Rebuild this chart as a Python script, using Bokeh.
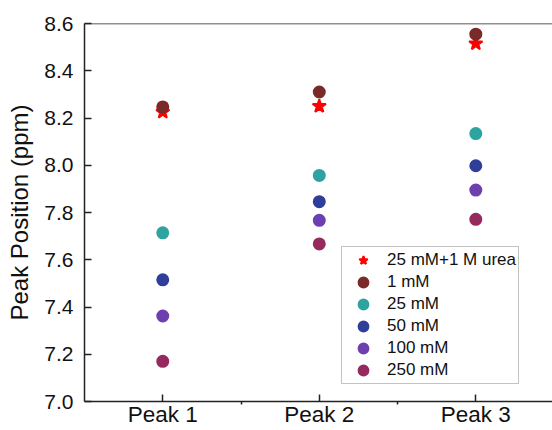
from bokeh.plotting import figure
from bokeh.models import (Range1d, FixedTicker, Span, Legend, LegendItem,
                          NumeralTickFormatter)
from bokeh.embed import file_html
from bokeh.resources import INLINE

categories = ["Peak 1", "Peak 2", "Peak 3"]
urea_25mM_1M = [8.225, 8.250, 8.515]
c_1mM = [8.247, 8.310, 8.555]
c_25mM = [7.714, 7.957, 8.134]
c_50mM = [7.515, 7.846, 7.998]
c_100mM = [7.362, 7.767, 7.895]
c_250mM = [7.170, 7.667, 7.771]
y_ticks = [7.0, 7.2, 7.4, 7.6, 7.8, 8.0, 8.2, 8.4, 8.6]

FONT = "Liberation Sans"
xpos = [i + 1 for i in range(len(categories))]
y_lo, y_hi = y_ticks[0], y_ticks[-1]

p = figure(width=552, height=430, output_backend="svg", toolbar_location=None,
           x_range=Range1d(0.5, 3.49), y_range=Range1d(y_lo, y_hi),
           min_border_left=84, min_border_right=0, min_border_top=23,
           min_border_bottom=29)
p.outline_line_color = None
p.grid.visible = False
p.background_fill_color = "white"
p.border_fill_color = "white"

xa = p.xaxis[0]
xa.ticker = FixedTicker(ticks=xpos, minor_ticks=[1.5, 2.5])
xa.major_label_overrides = {x: c for x, c in zip(xpos, categories)}
xa.major_tick_in = 7
xa.major_tick_out = 0
xa.minor_tick_in = 0
xa.minor_tick_out = 3
xa.major_label_standoff = -3
ya = p.yaxis[0]
ya.ticker = FixedTicker(ticks=y_ticks, minor_ticks=[])
ya.formatter = NumeralTickFormatter(format="0.0")
ya.major_tick_in = 7
ya.major_tick_out = 0
ya.major_label_standoff = 11
ya.axis_label = "Peak Position (ppm)"
ya.axis_label_standoff = 8
for ax in (xa, ya):
    ax.axis_line_color = "#222222"
    ax.axis_line_width = 1.5
    ax.major_tick_line_color = "#222222"
    ax.major_tick_line_width = 1.5
    ax.minor_tick_line_color = "#222222"
    ax.minor_tick_line_width = 1.5
    ax.major_label_text_font = FONT
    ax.major_label_text_color = "#111111"
    ax.axis_label_text_font = FONT
    ax.axis_label_text_font_size = "24px"
    ax.axis_label_text_font_style = "normal"
    ax.axis_label_text_color = "#111111"
xa.major_label_text_font_size = "22.5px"
ya.major_label_text_font_size = "21px"

# top frame line
p.add_layout(Span(location=y_hi, dimension="width", line_color="#222222",
                  line_width=1.5))

series = [
    ("1 mM", c_1mM, "#7A2A28"),
    ("25 mM", c_25mM, "#2FA39F"),
    ("50 mM", c_50mM, "#2F3F99"),
    ("100 mM", c_100mM, "#6E3FAE"),
    ("250 mM", c_250mM, "#962A5E"),
]

items = []
r_star = p.scatter(xpos, urea_25mM_1M, marker="star", size=14, line_width=2,
                   fill_color="#FF0000", line_color="#FF0000")
items.append(LegendItem(label="25 mM+1 M urea", renderers=[r_star]))
for label, vals, col in series:
    r = p.scatter(xpos, vals, marker="circle", size=10, line_width=3,
                  fill_color=col, line_color=col)
    items.append(LegendItem(label=label, renderers=[r]))

legend = Legend(items=items, location=(257, 17))
legend.label_text_font = FONT
legend.label_text_font_size = "17px"
legend.label_text_color = "#111111"
legend.label_height = 22
legend.glyph_height = 22
legend.glyph_width = 38
legend.label_standoff = 5
legend.spacing = 0
legend.padding = 2
legend.margin = 0
legend.border_line_color = "#888888"
legend.border_line_width = 1.5
legend.background_fill_color = "white"
legend.background_fill_alpha = 1.0
p.add_layout(legend, "center")

open("out.html", "w").write(file_html(p, INLINE))
